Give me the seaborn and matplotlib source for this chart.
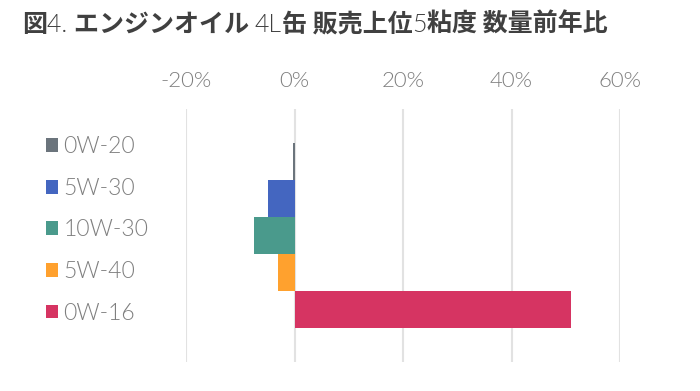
import matplotlib
matplotlib.use("Agg")
import matplotlib.pyplot as plt
from matplotlib.ticker import FuncFormatter
import pandas as pd
import seaborn as sns

grades = ['0W-20', '5W-30', '10W-30', '5W-40', '0W-16']
yoy = [-0.3, -4.8, -7.5, -3.1, 51.0]
colors = ['#6b747c', '#4466c0', '#4a9a8c', '#ffa12e', '#d63462']
x_ticks = [-20, 0, 20, 40, 60]

df = pd.DataFrame({'grade': grades, 'yoy': yoy, 'group': ['all'] * len(grades)})

sns.set_theme(style='white')
plt.rcParams['font.family'] = ['Lato', 'Noto Sans CJK JP', 'DejaVu Sans']
plt.rcParams['axes.unicode_minus'] = False

fig = plt.figure(figsize=(7, 3.91), dpi=100)
ax = fig.add_axes([186 / 700, 1 - 362 / 391, (620 - 186) / 700, (362 - 109) / 391])

sns.barplot(data=df, x='yoy', y='group', hue='grade', hue_order=grades,
            palette=colors, saturation=1, width=0.73, orient='h', errorbar=None,
            linewidth=0, ax=ax)

ax.set_xlim(-20, 60)
ax.set_xticks(x_ticks)
ax.xaxis.set_major_formatter(FuncFormatter(lambda v, p: f'{v:.0f}%'))
ax.xaxis.tick_top()
ax.tick_params(axis='x', length=0, pad=13, labelsize=16, labelcolor='#7f7f7f')
for lbl in ax.get_xticklabels():
    lbl.set_fontweight(300)
ax.set_yticks([])
ax.set_xlabel('')
ax.set_ylabel('')
ax.grid(axis='x', color='#e2e2e2', linewidth=1.5)
ax.set_axisbelow(True)
for s in ax.spines.values():
    s.set_visible(False)

handles, labels = ax.get_legend_handles_labels()
leg = ax.legend(handles, labels, loc='upper left', bbox_to_anchor=(37 / 700, 1 - 127 / 391),
                bbox_transform=fig.transFigure, frameon=False,
                prop={'size': 16.5, 'weight': 300},
                labelcolor='#7f7f7f', handlelength=0.5, handleheight=0.55,
                handletextpad=0.25, labelspacing=0.9, borderaxespad=0)

# title: bold CJK with light Lato digits
parts = [('図', 'bold'), ('4. ', 'light'), ('エンジンオイル ', 'bold'), ('4L', 'light'),
         ('缶 販売上位', 'bold'), ('5', 'light'), ('粘度 数量前年比', 'bold')]
renderer = fig.canvas.get_renderer()
x = 22 / 700
for txt, kind in parts:
    if kind == 'bold':
        t = fig.text(x, 1 - 25 / 391, txt, fontsize=18, fontweight='bold',
                     family=['Noto Sans CJK JP'], color='#404040', va='center')
    else:
        t = fig.text(x, 1 - 25 / 391, txt, fontsize=18, fontweight=300,
                     family=['Lato', 'Noto Sans CJK JP'], color='#404040', va='center')
    bb = t.get_window_extent(renderer)
    x = bb.x1 / fig.bbox.width

fig.savefig('out.png', dpi=100)
